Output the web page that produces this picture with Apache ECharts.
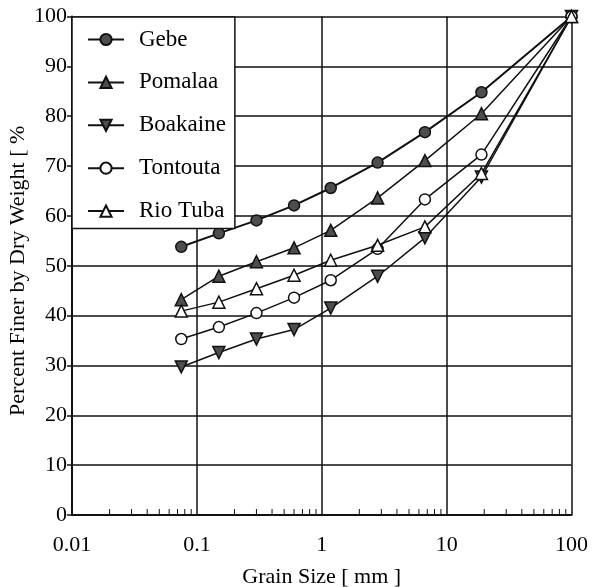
<!DOCTYPE html>
<html>
<head>
<meta charset="utf-8">
<script src="https://cdn.jsdelivr.net/npm/echarts@6/dist/echarts.min.js"></script>
<style>
  html, body { margin: 0; padding: 0; background: #fff; }
</style>
</head>
<body>
<div id="chart" style="width: 592px; height: 587px"></div>
<script>
// sieve sizes (mm)
var grainSize = [0.075, 0.15, 0.3, 0.6, 1.18, 2.8, 6.7, 19, 100]

var gebe = [53.8, 56.5, 59.1, 62.1, 65.6, 70.7, 76.8, 84.8, 100]
var pomalaa = [43.2, 47.9, 50.8, 53.6, 57.1, 63.6, 71.1, 80.5, 100]
var boakaine = [29.7, 32.6, 35.3, 37.2, 41.5, 47.9, 55.6, 67.8, 100]
var tontouta = [35.3, 37.7, 40.5, 43.6, 47.1, 53.4, 63.3, 72.3, 100]
var rioTuba = [40.9, 42.7, 45.4, 48.1, 51.1, 54.1, 57.8, 68.5, 100]

// minor tick positions on the log axis
var minorTicks = [
  0.02, 0.03, 0.04, 0.05, 0.06, 0.07, 0.08, 0.09,
  0.2, 0.3, 0.4, 0.5, 0.6, 0.7, 0.8, 0.9,
  2, 3, 4, 5, 6, 7, 8, 9,
  20, 30, 40, 50, 60, 70, 80, 90
]

var serif = '"Liberation Serif", "DejaVu Serif", serif'
var txt = { fontFamily: serif, fontSize: 22, color: '#000' }

function pairs(ys) {
  return grainSize.map(function (x, i) { return [x, ys[i]] })
}

function lineSeries(name, ys, symbol, filled, size, width) {
  return {
    name: name,
    type: 'line',
    data: pairs(ys),
    symbol: symbol,
    symbolSize: size,
    showAllSymbol: true,
    lineStyle: { color: '#111', width: width },
    itemStyle: {
      color: filled ? '#4d4d4d' : '#fff',
      borderColor: '#111',
      borderWidth: 1.5
    },
    z: 3
  }
}

// upward pointing triangle and downward one
var triUp = 'triangle'
var triDown = 'path://M0,0 L10,0 L5,9 Z'

const myChart = echarts.init(document.getElementById('chart'))
var option = {
  animation: false,
  grid: { left: 72, right: 20.5, top: 16.5, bottom: 72, outerBoundsMode: 'none', containLabel: false },
  legend: {
    orient: 'vertical',
    left: 72,
    top: 17,
    data: ['Gebe', 'Pomalaa', 'Boakaine', 'Tontouta', 'Rio Tuba'],
    backgroundColor: '#fff',
    borderColor: '#111',
    borderWidth: 1.5,
    padding: [11, 9, 6, 15],
    itemWidth: 36,
    itemHeight: 14,
    itemGap: 19.9,
    textStyle: Object.assign({}, txt, { fontSize: 23, lineHeight: 20, padding: [0, 0, 0, 10] })
  },
  xAxis: {
    type: 'log',
    logBase: 10,
    min: 0.01,
    max: 100,
    name: 'Grain Size [ mm ]',
    nameLocation: 'middle',
    nameGap: 51,
    nameTextStyle: txt,
    axisLine: { lineStyle: { color: '#111', width: 2 } },
    axisTick: { show: false },
    axisLabel: Object.assign({}, txt, {
      margin: 19,
      formatter: function (v) { return String(v) }
    }),
    splitLine: { show: true, lineStyle: { color: '#111', width: 1.5 } }
  },
  yAxis: {
    type: 'value',
    min: 0,
    max: 100,
    interval: 10,
    name: 'Percent Finer by Dry Weight [ %',
    nameLocation: 'middle',
    nameGap: 43,
    nameMoveOverlap: false,
    nameTextStyle: Object.assign({}, txt, { padding: [0, 10, 0, 0] }),
    axisLine: { show: true, lineStyle: { color: '#111', width: 2 } },
    axisTick: { show: true, length: 5, lineStyle: { color: '#111', width: 1.5 } },
    axisLabel: Object.assign({}, txt, { margin: 5 }),
    splitLine: { show: true, lineStyle: { color: '#111', width: 1.5 } }
  },
  series: [
    lineSeries('Gebe', gebe, 'circle', true, 11, 2),
    lineSeries('Pomalaa', pomalaa, triUp, true, 12, 1.5),
    lineSeries('Boakaine', boakaine, triDown, true, 12, 1.5),
    lineSeries('Tontouta', tontouta, 'circle', false, 11, 1.5),
    lineSeries('Rio Tuba', rioTuba, triUp, false, 12, 1.5),
    {
      type: 'custom',
      silent: true,
      data: minorTicks.map(function (x) { return [x] }),
      renderItem: function (params, api) {
        var p = api.coord([api.value(0), 0])
        return {
          type: 'line',
          shape: { x1: p[0], y1: p[1], x2: p[0], y2: p[1] - 6 },
          style: { stroke: '#111', lineWidth: 1 }
        }
      },
      z: 2
    }
  ]
};
myChart.setOption(option);
</script>
</body>
</html>
